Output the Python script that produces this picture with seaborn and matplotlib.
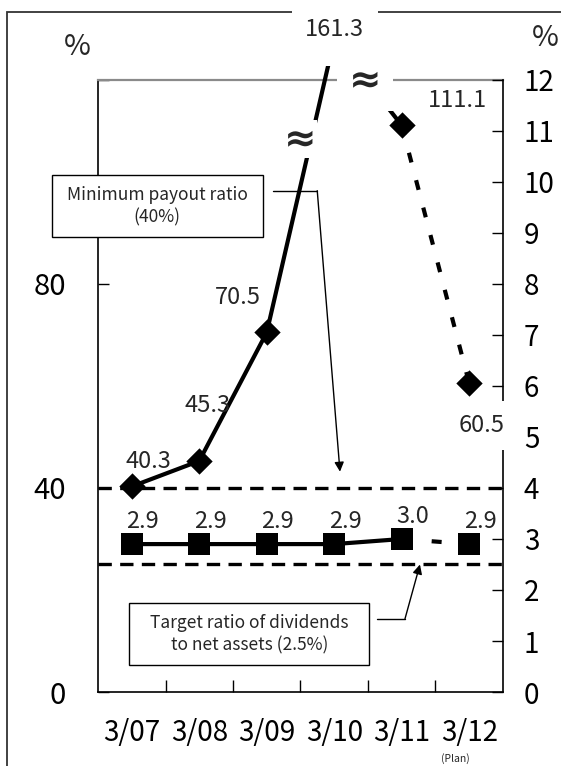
import matplotlib
matplotlib.use("Agg")
import matplotlib.pyplot as plt
import seaborn as sns
import numpy as np
import pandas as pd
from matplotlib.patches import Rectangle
from matplotlib.transforms import blended_transform_factory

# data
years = ["3/07", "3/08", "3/09", "3/10", "3/11", "3/12"]
payout = [40.3, 45.3, 70.5, 161.3, 111.1, 60.5]          # payout ratio, left axis (%)
payout_drawn = [40.3, 45.3, 70.5, 128.0, 111.1, 60.5]    # 3/10 is above the broken axis
doe = [2.9, 2.9, 2.9, 2.9, 3.0, 2.9]                     # dividends / net assets, right axis (%)
payout_min = 40
doe_target = 2.5
left_ticks = [0, 40, 80, 120]
left_labels = ["0", "40", "80", ""]
right_ticks = list(range(0, 13))

sns.set_theme(style="white")
plt.rcParams["font.family"] = ["Noto Sans CJK JP", "DejaVu Sans"]

fig = plt.figure(figsize=(5.61, 7.66), dpi=100)
ax = fig.add_axes([0.1747, 0.0966, 0.7219, 0.799])
ax2 = ax.twinx()

x = np.arange(len(years))
df = pd.DataFrame({"x": x, "year": years, "payout": payout, "drawn": payout_drawn, "doe": doe})
act = df.iloc[:5]
plan = df.iloc[4:]

# payout ratio line
sns.lineplot(data=act, x="x", y="drawn", color="black", lw=3, ax=ax, clip_on=False, zorder=3)
sns.lineplot(data=plan, x="x", y="drawn", color="black", lw=3, linestyle=(0, (2.4, 4.4)), ax=ax, zorder=3)
sns.scatterplot(data=df[df.payout <= 120], x="x", y="drawn", marker="D", s=180, color="black",
                edgecolor="black", linewidth=0, ax=ax, zorder=4)

# dividends to net assets line
sns.lineplot(data=act, x="x", y="doe", color="black", lw=3, ax=ax2, zorder=3)
sns.lineplot(data=plan, x="x", y="doe", color="black", lw=3, linestyle=(0, (2.4, 4.8)), ax=ax2, zorder=3)
sns.scatterplot(data=df, x="x", y="doe", marker="s", s=270, color="black",
                edgecolor="black", linewidth=0, ax=ax2, zorder=4)

# reference lines
ax.axhline(payout_min, color="black", lw=2.4, linestyle=(0, (4, 2.5)), zorder=2)
ax2.axhline(doe_target, color="black", lw=2.4, linestyle=(0, (4, 2.5)), zorder=2)

# axes
ax.set_xlim(-0.5, len(years) - 0.5)
ax.set_ylim(0, 120)
ax2.set_ylim(0, 12)
ax.set_xlabel("")
ax.set_ylabel("")
ax2.set_ylabel("")

ax.set_xticks(np.arange(len(years) - 1) + 0.5)
ax.set_xticklabels([])
ax.set_xticks(x, years, minor=True)
ax.tick_params(axis="x", which="major", direction="in", length=9, width=1, bottom=True, color="black")
ax.tick_params(axis="x", which="minor", length=0, pad=19, labelsize=20, labelcolor="black")

ax.set_yticks(left_ticks, left_labels)
ax.tick_params(axis="y", direction="in", length=8, width=1, left=True, color="black",
               labelsize=21, pad=23, labelcolor="black")
ax2.set_yticks(right_ticks)
ax2.tick_params(axis="y", direction="in", length=8, width=1, right=True, color="black",
                labelsize=20, pad=15, labelcolor="black")

for s in ["left", "bottom"]:
    ax.spines[s].set_color("black")
    ax.spines[s].set_linewidth(1.2)
ax.spines["top"].set_color("#8a8a8a")
ax.spines["top"].set_linewidth(1.6)
ax.spines["right"].set_visible(False)
for s in ["left", "top", "bottom"]:
    ax2.spines[s].set_visible(False)
ax2.spines["right"].set_color("black")
ax2.spines["right"].set_linewidth(1.2)

# data labels
lab_off = [(12, 18), (6, 40), (-21, 25), None, (40, 18)]
for i, off in enumerate(lab_off):
    if off is None:
        continue
    ax.annotate(f"{payout[i]:.1f}", (x[i], payout_drawn[i]), xytext=off, textcoords="offset points",
                ha="center", va="center", fontsize=17, zorder=6)
ax2.annotate(f"{payout[5]:.1f}", (x[5], payout_drawn[5]), xycoords=ax.transData, xytext=(9, -30),
             textcoords="offset points", ha="center", va="center", fontsize=17, zorder=6,
             bbox=dict(boxstyle="square,pad=0.55", fc="white", ec="none"))
for i in range(len(years)):
    ax2.annotate(f"{doe[i]:.1f}", (x[i], doe[i]), xytext=(8, 16), textcoords="offset points",
                 ha="center", va="center", fontsize=17, zorder=6)

# off-scale label for 3/10 with a white mask over the frame
ax.add_patch(Rectangle((292 / 561, 1 - 66 / 766), 86 / 561, 66 / 766, transform=fig.transFigure,
                       fc="white", ec="none", clip_on=False, zorder=6))
ax.text(x[3], 1 - 29 / 766, f"{payout[3]:.1f}", transform=blended_transform_factory(ax.transData, fig.transFigure),
        ha="center", va="center", fontsize=17, zorder=7)

# break marks
ax.text(2.5, 108.4, "≈", family="DejaVu Sans", fontweight="bold", fontsize=28, ha="center", va="center",
        zorder=6, bbox=dict(boxstyle="square,pad=0.0", fc="white", ec="none"))
ax.text(3.46, 120, "≈", family="DejaVu Sans", fontweight="bold", fontsize=28, ha="center", va="center",
        zorder=6, clip_on=False, bbox=dict(boxstyle="square,pad=0.3", fc="white", ec="none"))

# callout boxes
ax.add_patch(Rectangle((-1.18, 89.2), 3.128, 12.2, fc="white", ec="black", lw=1, clip_on=False, zorder=6))
ax.text(0.374, 95.3, "Minimum payout ratio\n(40%)", ha="center", va="center", fontsize=12.5,
        linespacing=1.3, zorder=7)
ax.plot([2.096, 2.748], [98.3, 98.3], color="black", lw=1, clip_on=False, zorder=5)
ax.annotate("", xy=(3.085, 43.2), xytext=(2.748, 98.3),
            arrowprops=dict(arrowstyle="-|>", color="black", lw=1, mutation_scale=14, shrinkA=0, shrinkB=0),
            zorder=5)

ax.add_patch(Rectangle((-0.04, 5.3), 3.555, 12.2, fc="white", ec="black", lw=1, clip_on=False, zorder=6))
ax.text(1.74, 11.4, "Target ratio of dividends\nto net assets (2.5%)", ha="center", va="center",
        fontsize=12.5, linespacing=1.3, zorder=7)
ax.plot([3.633, 4.048], [14.35, 14.35], color="black", lw=1, clip_on=False, zorder=5)
ax.annotate("", xy=(4.27, 25.0), xytext=(4.048, 14.35),
            arrowprops=dict(arrowstyle="-|>", color="black", lw=1, mutation_scale=14, shrinkA=0, shrinkB=0),
            zorder=5)

ax.text(4.8, -0.108, "(Plan)", transform=blended_transform_factory(ax.transData, ax.transAxes),
        ha="center", va="center", fontsize=7.5)

# unit labels and outer frame
fig.text(77 / 561, 1 - 47 / 766, "%", ha="center", va="center", fontsize=21)
fig.text(545 / 561, 1 - 38 / 766, "%", ha="center", va="center", fontsize=21)
fig.add_artist(Rectangle((7 / 561, -0.1), 2, 1.1 - 12 / 766, transform=fig.transFigure,
                         fill=False, ec="#333333", lw=1.3, zorder=-1))

fig.savefig("out.png", dpi=100)
